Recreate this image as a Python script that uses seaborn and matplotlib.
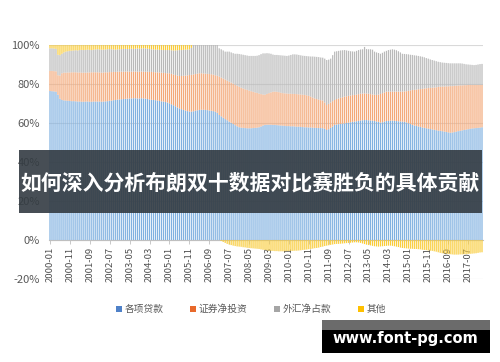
import numpy as np
import pandas as pd
import matplotlib
matplotlib.use("Agg")
import matplotlib.pyplot as plt
import seaborn as sns
from matplotlib.lines import Line2D
from matplotlib.patches import Rectangle

series_names = ["各项贷款", "证券净投资", "外汇净占款", "其他"]
tick_labels = ["2000-01", "2000-11", "2001-09", "2002-07", "2003-05", "2004-03",
               "2005-01", "2005-11", "2006-09", "2007-07", "2008-05", "2009-03",
               "2010-01", "2010-11", "2011-09", "2012-07", "2013-05", "2014-03",
               "2015-01", "2015-11", "2016-09", "2017-07"]
y_ticks = [-20, 0, 20, 40, 60, 80, 100]

# monthly shares (%) 2000-01 .. 2018-02
loans = [
    76.4, 76.3, 76.2, 76.0, 74.5, 72.5, 71.8, 71.6, 71.5, 71.4, 71.3, 71.2,
    71.2, 71.1, 71.0, 71.0, 70.9, 70.9, 71.0, 71.0, 70.9, 70.9, 71.0, 71.0,
    71.0, 71.0, 70.9, 71.0, 71.1, 71.2, 71.4, 71.5, 71.7, 71.8, 72.0, 72.1,
    72.2, 72.3, 72.4, 72.5, 72.6, 72.6, 72.7, 72.7, 72.6, 72.6, 72.7, 72.6,
    72.5, 72.3, 72.1, 71.9, 71.8, 71.7, 71.5, 71.3, 71.1, 71.0, 70.8, 70.5,
    70.1, 69.6, 69.1, 68.6, 68.0, 67.5, 67.1, 66.7, 66.4, 66.1, 65.9, 65.8,
    66.0, 66.3, 66.5, 66.7, 66.8, 66.8, 66.7, 66.6, 66.4, 66.3, 66.1, 65.8,
    65.2, 64.1, 63.4, 62.7, 62.0, 61.4, 60.7, 60.1, 59.5, 58.9, 58.3, 57.8,
    57.6, 57.5, 57.4, 57.3, 57.3, 57.3, 57.4, 57.5, 57.6, 57.8, 58.2, 58.7,
    59.0, 59.1, 59.1, 59.1, 59.0, 59.0, 58.9, 58.8, 58.7, 58.6, 58.5, 58.4,
    58.4, 58.3, 58.3, 58.2, 58.1, 58.1, 58.0, 57.9, 57.8, 57.8, 57.7, 57.7,
    57.6, 57.5, 57.5, 57.4, 57.4, 57.3, 57.0, 56.4, 56.8, 57.5, 58.2, 59.0,
    59.2, 59.4, 59.5, 59.7, 59.8, 60.0, 60.2, 60.4, 60.6, 60.7, 60.9, 61.1,
    61.3, 61.4, 61.5, 61.5, 61.4, 61.3, 61.2, 61.0, 60.8, 60.6, 60.2, 60.4,
    60.7, 61.0, 61.1, 61.2, 61.2, 61.1, 61.0, 60.9, 60.8, 60.7, 60.6, 60.3,
    59.9, 59.5, 59.0, 58.7, 58.5, 58.2, 58.0, 57.7, 57.5, 57.3, 57.1, 56.9,
    56.7, 56.5, 56.3, 56.1, 56.0, 55.8, 55.6, 55.4, 55.2, 55.0, 55.1, 55.3,
    55.5, 55.8, 56.0, 56.2, 56.4, 56.6, 56.8, 57.0, 57.2, 57.3, 57.4, 57.5,
    57.6, 57.8,
]
securities = [
    10.3, 10.4, 10.4, 10.5, 10.0, 11.8, 13.7, 14.2, 14.3, 14.5, 14.6, 14.8,
    14.8, 14.9, 14.9, 14.9, 14.9, 14.9, 14.8, 14.9, 15.0, 15.1, 15.0, 15.0,
    15.0, 14.9, 14.9, 14.9, 14.9, 14.8, 14.7, 14.6, 14.5, 14.4, 14.3, 14.2,
    14.1, 14.0, 14.0, 13.9, 13.7, 13.7, 13.7, 13.7, 13.7, 13.7, 13.7, 13.7,
    13.8, 14.0, 14.1, 14.3, 14.3, 14.3, 14.5, 14.6, 14.7, 14.7, 14.8, 15.0,
    15.4, 15.6, 15.8, 16.0, 16.3, 16.6, 17.0, 17.5, 17.9, 18.3, 18.7, 18.9,
    18.9, 18.8, 18.8, 18.8, 18.7, 18.6, 18.6, 18.6, 18.7, 18.7, 18.7, 18.7,
    19.0, 19.7, 19.9, 20.1, 20.3, 20.3, 20.5, 20.6, 20.7, 20.7, 20.8, 20.8,
    20.5, 20.2, 19.9, 19.7, 19.3, 19.0, 18.6, 18.2, 17.8, 17.3, 16.6, 15.9,
    15.5, 15.8, 16.2, 16.6, 17.0, 17.1, 17.1, 17.0, 16.8, 16.7, 16.7, 16.7,
    16.6, 16.7, 16.6, 16.7, 16.7, 16.6, 16.6, 16.6, 16.6, 16.4, 16.2, 15.8,
    15.4, 15.1, 14.8, 14.6, 14.3, 14.2, 13.5, 12.8, 13.0, 13.0, 13.0, 12.8,
    13.1, 13.2, 13.4, 13.5, 13.7, 13.7, 13.7, 13.7, 13.7, 13.7, 13.7, 13.7,
    13.7, 13.7, 13.7, 13.6, 13.6, 13.5, 13.4, 13.5, 13.6, 14.0, 14.7, 14.9,
    15.0, 15.1, 15.0, 14.9, 14.9, 15.0, 15.1, 15.2, 15.3, 15.4, 15.6, 16.0,
    16.6, 17.2, 17.9, 18.3, 18.6, 19.1, 19.4, 19.8, 20.2, 20.5, 20.8, 21.1,
    21.4, 21.7, 22.0, 22.4, 22.6, 22.9, 23.1, 23.4, 23.6, 23.9, 23.8, 23.7,
    23.6, 23.4, 23.3, 23.1, 23.0, 22.8, 22.7, 22.5, 22.3, 22.2, 22.1, 22.0,
    21.9, 21.7,
]
fx = [
    11.6, 11.6, 11.6, 11.5, 10.5, 10.5, 10.0, 10.4, 10.8, 10.9, 11.1, 11.1,
    11.2, 11.3, 11.3, 11.5, 11.7, 11.6, 11.7, 11.7, 11.6, 11.4, 11.6, 11.7,
    11.8, 11.8, 11.8, 11.7, 11.7, 11.8, 11.8, 11.7, 11.5, 11.4, 11.4, 11.5,
    11.6, 11.7, 11.6, 11.5, 11.7, 11.8, 11.6, 11.7, 11.9, 11.8, 11.8, 12.0,
    11.9, 11.8, 11.8, 11.6, 11.6, 11.6, 11.6, 11.6, 11.7, 11.7, 11.8, 11.9,
    11.9, 12.1, 12.3, 12.6, 13.0, 13.3, 13.3, 13.3, 13.3, 13.2, 13.1, 13.8,
    15.1, 14.9, 14.7, 14.5, 14.5, 14.6, 14.7, 14.8, 14.9, 15.0, 15.2, 15.5,
    15.8, 14.5, 14.5, 14.4, 14.3, 14.9, 15.4, 15.5, 15.6, 15.9, 16.4, 16.8,
    17.1, 17.3, 17.5, 17.6, 17.8, 18.1, 18.4, 18.7, 19.1, 19.7, 20.5, 21.1,
    21.2, 20.9, 20.4, 19.8, 19.1, 18.8, 18.9, 19.0, 19.2, 19.3, 19.3, 19.3,
    19.6, 19.9, 20.3, 20.3, 20.3, 20.2, 20.1, 20.0, 20.0, 20.1, 20.3, 20.6,
    21.1, 21.4, 21.6, 21.8, 21.9, 22.0, 22.5, 23.1, 22.7, 22.5, 23.6, 24.8,
    24.5, 24.4, 24.3, 24.1, 23.9, 23.5, 23.1, 22.7, 22.4, 22.2, 22.4, 22.6,
    22.7, 22.7, 23.8, 22.8, 22.8, 23.0, 23.0, 22.1, 21.8, 21.3, 20.6, 20.7,
    20.9, 20.9, 21.3, 21.5, 21.7, 21.5, 21.2, 20.7, 20.1, 19.4, 19.2, 19.0,
    18.7, 18.3, 18.0, 17.7, 17.5, 17.1, 16.8, 16.5, 16.0, 15.5, 15.1, 14.6,
    14.2, 13.8, 13.4, 12.9, 12.6, 12.3, 12.2, 12.0, 11.9, 11.7, 11.7, 11.6,
    11.5, 11.4, 11.3, 11.2, 10.9, 10.7, 10.5, 10.4, 10.3, 10.2, 10.3, 10.5,
    10.7, 10.8,
]
other = [
    1.7, 1.7, 1.8, 2.0, 5.0, 5.2, 4.5, 3.8, 3.4, 3.2, 3.0, 2.9,
    2.8, 2.7, 2.8, 2.6, 2.5, 2.6, 2.5, 2.4, 2.5, 2.6, 2.4, 2.3,
    2.2, 2.3, 2.4, 2.4, 2.3, 2.2, 2.1, 2.2, 2.3, 2.4, 2.3, 2.2,
    2.1, 2.0, 2.0, 2.1, 2.0, 1.9, 2.0, 1.9, 1.8, 1.9, 1.8, 1.7,
    1.8, 1.9, 2.0, 2.2, 2.3, 2.4, 2.4, 2.5, 2.5, 2.6, 2.6, 2.6,
    2.6, 2.7, 2.8, 2.8, 2.7, 2.6, 2.6, 2.5, 2.4, 2.4, 2.3, 1.5,
    0.0, 0.0, 0.0, 0.0, 0.0, 0.0, 0.0, 0.0, 0.0, 0.0, 0.0, 0.0,
    0.0, 0.0, -0.5, -1.0, -1.5, -2.0, -2.3, -2.6, -2.9, -3.1, -3.3, -3.4,
    -3.5, -3.7, -3.8, -4.0, -4.1, -4.2, -4.3, -4.4, -4.5, -4.6, -4.8, -5.0,
    -5.1, -5.3, -5.5, -5.6, -5.6, -5.7, -5.7, -5.8, -5.8, -5.8, -5.8, -5.7,
    -5.7, -5.6, -5.6, -5.5, -5.5, -5.4, -5.3, -5.1, -5.0, -4.9, -4.7, -4.6,
    -4.4, -4.2, -4.1, -3.9, -3.6, -3.4, -3.1, -2.9, -2.7, -2.5, -2.3, -2.1,
    -2.0, -2.0, -1.9, -1.8, -1.7, -1.6, -1.5, -1.4, -1.3, -1.2, -1.2, -1.3,
    -1.5, -1.8, -2.1, -2.4, -2.6, -2.8, -3.0, -3.2, -3.3, -3.4, -3.3, -3.2,
    -3.1, -3.0, -2.9, -2.9, -3.0, -3.2, -3.4, -3.6, -3.9, -4.1, -4.2, -4.3,
    -4.4, -4.5, -4.5, -4.6, -4.6, -4.7, -4.8, -5.0, -5.1, -5.2, -5.4, -5.5,
    -5.6, -5.8, -6.0, -6.3, -6.6, -6.8, -6.9, -7.0, -7.2, -7.3, -7.4, -7.5,
    -7.5, -7.5, -7.4, -7.4, -7.3, -7.3, -7.2, -7.1, -7.0, -6.9, -6.8, -6.6,
    -6.4, -6.3,
]

bar_colors = ["#7fb0e0", "#f3a878", "#b9b9b9", "#f9cc3a"]
legend_colors = ["#4f81c8", "#e8692b", "#a5a5a5", "#ffc000"]

sns.set_theme(style="white")
plt.rcParams["font.family"] = ["Noto Sans CJK SC", "DejaVu Sans"]

n = len(loans)
idx = np.arange(n)
L = np.array(loans)
S = np.array(securities)
F = np.array(fx)
O = np.array(other)
pos_other = np.clip(O, 0, None)
neg_other = np.clip(O, None, 0)

df = pd.DataFrame({"m": idx, "loans": L, "sec": S, "fx": F,
                   "pos": pos_other, "neg": neg_other})

fig = plt.figure(figsize=(5.0, 3.62), dpi=100)
ax = fig.add_axes([0.098, 0.2293, 0.868, 0.6464])

layers = [("loans", np.zeros(n), bar_colors[0]),
          ("sec", L, bar_colors[1]),
          ("fx", L + S, bar_colors[2]),
          ("pos", L + S + F, bar_colors[3]),
          ("neg", np.zeros(n), bar_colors[3])]
for col, base, c in layers:
    sns.barplot(data=df, x="m", y=col, bottom=base, color=c, saturation=1,
                width=0.6, linewidth=0, errorbar=None, ax=ax, zorder=2)
for p in ax.patches:
    p.set_snap(False)

ax.set_xlim(-0.5, n - 0.5)
ax.set_ylim(-20, 100)
ax.set_yticks(y_ticks)
ax.set_yticklabels([f"{v}%" for v in y_ticks])
ax.yaxis.grid(True, color="#d9d9d9", linewidth=0.8, zorder=0)
ax.xaxis.grid(False)
ax.set_axisbelow(True)
for side in ["left", "right", "top"]:
    ax.spines[side].set_visible(False)
ax.spines["bottom"].set_position(("data", 0))
ax.spines["bottom"].set_color("#bfbfbf")
ax.spines["bottom"].set_linewidth(0.8)
ax.spines["bottom"].set_zorder(1)

ax.set_xticks(np.arange(0, len(tick_labels) * 10, 10))
ax.set_xticklabels(tick_labels, rotation=90)
ax.tick_params(axis="x", length=3, width=0.6, color="#bfbfbf", pad=2,
               labelsize=6.8, labelcolor="#505050", bottom=True)
ax.tick_params(axis="y", length=0, pad=6.5, labelsize=8, labelcolor="#595959")
ax.set_xlabel("")
ax.set_ylabel("")

handles = [Line2D([0], [0], marker="s", linestyle="none", markersize=4.5,
                  markerfacecolor=c, markeredgewidth=0) for c in legend_colors]
leg = fig.legend(handles, series_names, loc="center", ncol=4,
                 bbox_to_anchor=(0.502, 0.1464), frameon=False, fontsize=7,
                 handlelength=0.6, handletextpad=0.3, columnspacing=2.7,
                 borderaxespad=0)
for t in leg.get_texts():
    t.set_color("#595959")

# overlay banner
fig.patches.append(Rectangle((0.038, 1 - 212.5 / 362), 0.926, 62.5 / 362,
                             transform=fig.transFigure, facecolor="#333b42",
                             alpha=0.9, edgecolor="none", zorder=10))
fig.text(0.499, 1 - 182.5 / 362, "如何深入分析布朗双十数据对比赛胜负的具体贡献",
         ha="center", va="center", color="white", fontsize=15,
         fontweight="bold", zorder=11)

# watermark
fig.patches.append(Rectangle((322 / 500, 1 - 330 / 362), 168 / 500, 10 / 362,
                             transform=fig.transFigure, facecolor="#6b6b6b",
                             edgecolor="none", zorder=10))
fig.patches.append(Rectangle((322 / 500, 1 - 353 / 362), 168 / 500, 23 / 362,
                             transform=fig.transFigure, facecolor="#000000",
                             edgecolor="none", zorder=10))
fig.text(405 / 500, 1 - 339 / 362, "www.font-pg.com", ha="center", va="center",
         color="white", fontsize=10.5, fontweight="bold",
         family=["DejaVu Sans"], zorder=11)

fig.savefig("out.png", dpi=100)
